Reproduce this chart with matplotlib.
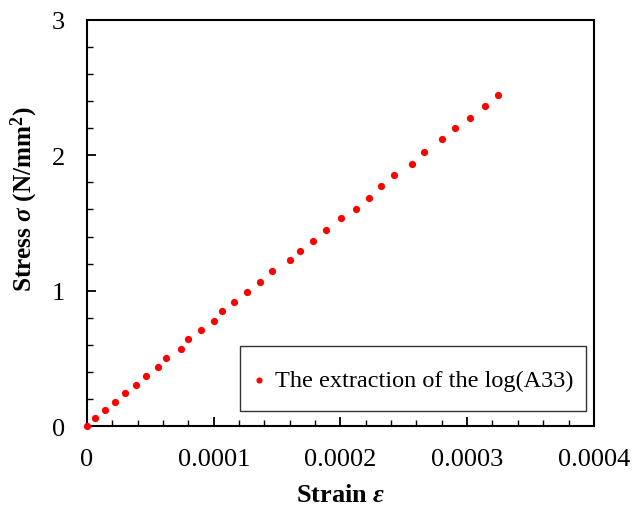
import numpy as np
import matplotlib
matplotlib.use("Agg")
import matplotlib.pyplot as plt
from matplotlib.ticker import MultipleLocator

plt.rcParams['font.family'] = ['Liberation Serif', 'DejaVu Serif']
plt.rcParams['mathtext.fontset'] = 'custom'
plt.rcParams['mathtext.rm'] = 'Liberation Serif:bold'
plt.rcParams['mathtext.it'] = 'Liberation Serif:italic:bold'
plt.rcParams['mathtext.bf'] = 'Liberation Serif:bold'

# strain (x1e-4) and stress values
strain_e4 = [0.0, 0.061, 0.140, 0.221, 0.302, 0.384, 0.463, 0.563, 0.621, 0.744,
             0.799, 0.902, 1.002, 1.063, 1.162, 1.262, 1.363, 1.462, 1.602, 1.683,
             1.783, 1.883, 2.002, 2.122, 2.223, 2.320, 2.422, 2.562, 2.661, 2.803,
             2.901, 3.022, 3.142, 3.243]
stress = [0.0, 0.059, 0.118, 0.180, 0.244, 0.305, 0.372, 0.436, 0.500, 0.569,
          0.641, 0.707, 0.776, 0.850, 0.919, 0.993, 1.067, 1.146, 1.225, 1.291,
          1.366, 1.447, 1.535, 1.604, 1.685, 1.774, 1.853, 1.934, 2.025, 2.119,
          2.200, 2.279, 2.367, 2.449]
strain = np.array(strain_e4) * 1e-4

xticks = [0, 0.0001, 0.0002, 0.0003, 0.0004]
xtick_labels = ['0', '0.0001', '0.0002', '0.0003', '0.0004']
yticks = [0, 1, 2, 3]

fig = plt.figure(figsize=(6.42, 5.06), dpi=100)
ax = fig.add_axes([0.1355, 0.156, 0.7895, 0.8025])

ax.plot(strain, stress, 'o', color='#ff0000', markersize=5.2, markeredgewidth=0,
        label='The extraction of the log(A33)', clip_on=False, zorder=3)

ax.set_xlim(0, 0.0004)
ax.set_ylim(0, 3)
ax.set_xticks(xticks)
ax.set_xticklabels(xtick_labels)
ax.set_yticks(yticks)
ax.xaxis.set_minor_locator(MultipleLocator(0.00002))
ax.yaxis.set_minor_locator(MultipleLocator(0.2))

ax.tick_params(which='both', direction='in', labelsize=19, top=False, right=False)
ax.tick_params(axis='x', which='both', pad=16)
ax.tick_params(axis='y', which='both', pad=16)
ax.tick_params(which='major', length=6.5, width=1.3)
ax.tick_params(which='minor', length=4.3, width=1.0)
for s in ax.spines.values():
    s.set_linewidth(1.5)

ax.set_xlabel(r'Strain $\varepsilon$', fontsize=19, fontweight='bold', labelpad=9)
ax.set_ylabel(r'Stress $\sigma$ (N/mm$^2$)', fontsize=18.2, fontweight='bold')
ax.yaxis.set_label_coords(-0.092, 0.56)

leg = ax.legend(loc='lower right', bbox_to_anchor=(0.984, 0.037), fontsize=17.5,
                frameon=True, fancybox=False, handlelength=0.55, handletextpad=0.4,
                handleheight=2.2, borderpad=0.5, borderaxespad=0, markerscale=0.85)
leg.get_frame().set_edgecolor('black')
leg.get_frame().set_linewidth(1.0)
# line the legend dot up with the middle of the text
h = leg.legend_handles[0]
h.set_ydata(np.asarray(h.get_ydata()) - 5.8)

fig.savefig('out.png', dpi=100)
